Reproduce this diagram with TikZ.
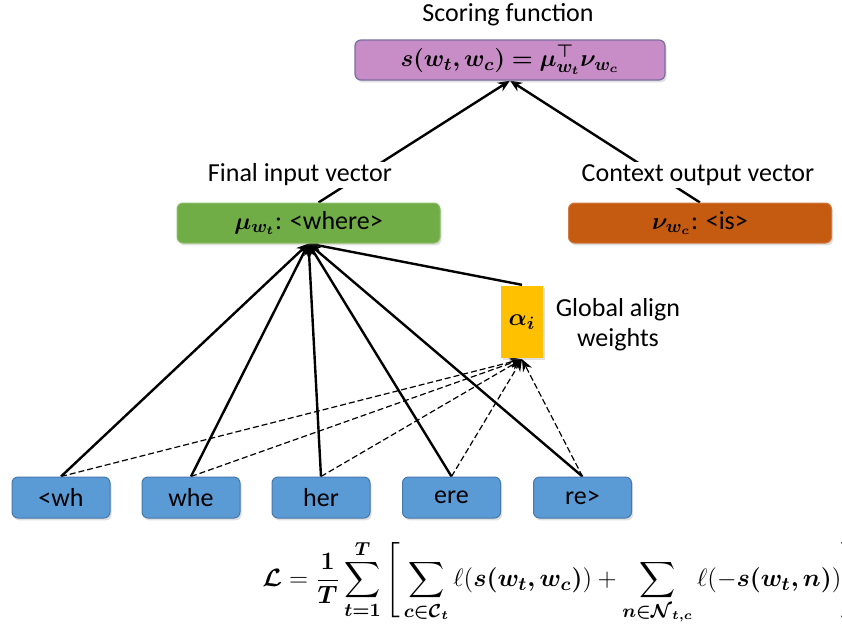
\documentclass[tikz,border=0pt]{standalone}
\usepackage{amsmath,bm}
\usepackage{fontspec}
\setmainfont{Carlito}
\usetikzlibrary{arrows.meta,shadows,backgrounds}
\definecolor{scorefill}{RGB}{200,140,198}
\definecolor{scoreline}{RGB}{120,110,160}
\definecolor{finalfill}{RGB}{112,173,71}
\definecolor{ctxfill}{RGB}{197,90,17}
\definecolor{subfill}{RGB}{91,155,213}
\definecolor{subline}{RGB}{70,120,170}
\definecolor{alphafill}{RGB}{255,192,0}
\begin{document}
\begin{tikzpicture}[x=0.5pt,y=-0.5pt,font=\fontsize{13}{15}\selectfont,line width=1.2pt,>={Stealth[length=6pt,width=5pt]}]
	\tikzstyle{box}=[rectangle,rounded corners=3pt,text=black,inner sep=0pt,drop shadow={opacity=0.25,shadow xshift=0.8pt,shadow yshift=-1.2pt}]
	\tikzstyle{SC}=[box,fill=scorefill,draw=scoreline,line width=0.6pt,minimum width=155pt,minimum height=20pt] % SC = scoring box
	\tikzstyle{VEC}=[box,minimum width=131.5pt,minimum height=20pt] % VEC = vector box
	\tikzstyle{SUB}=[box,fill=subfill,draw=subline,line width=0.5pt,minimum width=49pt,minimum height=20.5pt] % SUB = subword box
	\tikzstyle{lbl}=[fill=white,inner sep=1pt]
	\tikzstyle{sld}=[->,line width=1.2pt]
	\tikzstyle{dsh}=[->,line width=0.6pt,dash pattern=on 3pt off 1.5pt]
	\useasboundingbox (0,0) rectangle (842,629);
	\clip (0,0) rectangle (842,629);
	% boxes
	\node(scoring)[SC] at (510,60) {$\bm{s(w_t,w_c)=\mu_{w_t}^{\top}\nu_{w_c}}$};
	\node(final)[VEC,fill=finalfill,draw=finalfill!80!white,line width=0.5pt] at (308.5,223) {$\bm{\mu_{w_t}}$: <where>};
	\node(context)[VEC,fill=ctxfill,draw=ctxfill!80!white,line width=0.5pt] at (700,223) {$\bm{\nu_{w_c}}$: <is>};
	\node(alpha)[box,rounded corners=0pt,fill=alphafill,minimum width=21pt,minimum height=36pt,drop shadow={opacity=0}] at (522,322) {$\bm{\alpha_i}$};
	\node(wh)[SUB] at (61,497.5) {<wh};
	\node(whe)[SUB] at (191,497.5) {whe};
	\node(her)[SUB] at (321,497.5) {her};
	\node(ere)[SUB] at (451.5,497.5) {ere};
	\node(re)[SUB] at (582.5,497.5) {re>};
	% texts
	\node(sftitle) at (508,15) {Scoring function};
	\node(gaw)[align=center] at (618,325) {Global align\\weights};
	\begin{pgfonlayer}{background}
	% edges to scoring
	\draw[sld]([xshift=5pt]final.north)to(scoring.south);
	\draw[sld](context.north)to(scoring.south);
	% edges to final
	\foreach \s in {wh,whe,her,ere,re}
		\draw[sld](\s.north)to(final.south);
	\draw[sld](alpha.north)to(final.south);
	% edges to alpha
	\foreach \s in {wh,whe,her,ere,re}
		\draw[dsh](\s.north)to(alpha.south);
	\end{pgfonlayer}
	\node(fiv)[lbl] at (300,175) {Final input vector};
	\node(cov)[lbl] at (698,175) {Context output vector};
	% loss
	\node(loss)[anchor=west,inner sep=0pt] at (262,582) {\scalebox{1.045}{$\displaystyle \bm{\mathcal{L}}=\frac{\bm 1}{\bm T}\sum_{\bm{t=1}}^{\bm T}\Bigg[\sum_{\bm{c\in\mathcal{C}_t}}\ell(\bm{s(w_t,w_c)})+\sum_{\bm{n\in\mathcal{N}_{t,c}}}\ell(-\bm{s(w_t,n)})\Bigg]$}};
\end{tikzpicture}
\end{document}
